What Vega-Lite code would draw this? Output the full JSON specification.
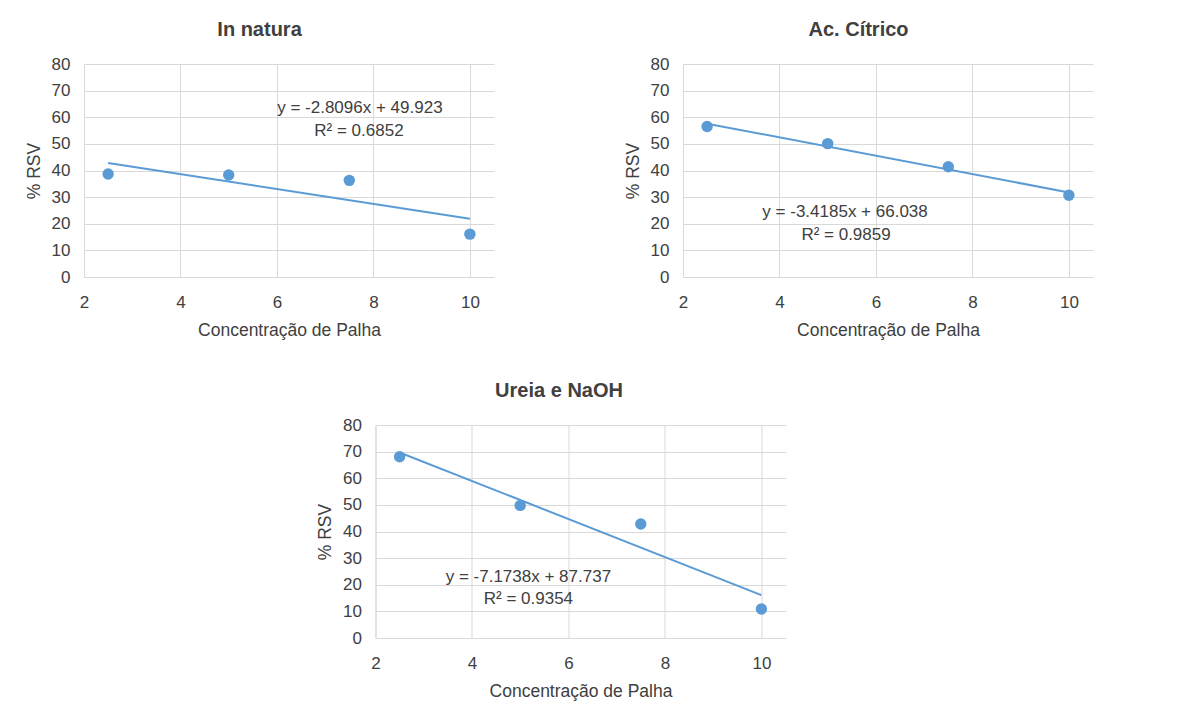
{
  "$schema": "https://vega.github.io/schema/vega-lite/v6.json",
  "background": "white",
  "padding": {"left": 25, "top": 20, "right": 10, "bottom": 5},
  "config": {
    "font": "Liberation Sans",
    "view": {"stroke": null},
    "axis": {
      "grid": true,
      "gridColor": "#D9D9D9",
      "domainColor": "#D9D9D9",
      "ticks": false,
      "labelColor": "#404040",
      "titleColor": "#404040",
      "labelFontSize": 17,
      "titleFontSize": 17.5,
      "titleFontWeight": "normal",
      "labelFont": "Liberation Sans",
      "titleFont": "Liberation Sans",
      "labelOverlap": false,
      "labelFlush": false
    },
    "axisY": {"labelPadding": 14, "titlePadding": 8, "labelFontSize": 17},
    "axisX": {"labelPadding": 17, "titlePadding": 11, "labelFontSize": 17},
    "title": {"fontSize": 20, "fontWeight": "bold", "color": "#404040", "anchor": "middle", "frame": "bounds", "offset": 15, "font": "Liberation Sans"}
  },
  "datasets": {
    "points": [
      {"panel": "In natura", "x": 2.5, "y": 38.7},
      {"panel": "In natura", "x": 5, "y": 38.3},
      {"panel": "In natura", "x": 7.5, "y": 36.3},
      {"panel": "In natura", "x": 10, "y": 16.1},
      {"panel": "Ac. Cítrico", "x": 2.5, "y": 56.5},
      {"panel": "Ac. Cítrico", "x": 5, "y": 50.1},
      {"panel": "Ac. Cítrico", "x": 7.5, "y": 41.4},
      {"panel": "Ac. Cítrico", "x": 10, "y": 30.7},
      {"panel": "Ureia e NaOH", "x": 2.5, "y": 68.1},
      {"panel": "Ureia e NaOH", "x": 5, "y": 49.8},
      {"panel": "Ureia e NaOH", "x": 7.5, "y": 42.8},
      {"panel": "Ureia e NaOH", "x": 10, "y": 10.9}
    ],
    "labels": [
      {"panel": "In natura", "eq": "y = -2.8096x + 49.923", "r2": "R² = 0.6852"},
      {"panel": "Ac. Cítrico", "eq": "y = -3.4185x + 66.038", "r2": "R² = 0.9859"},
      {"panel": "Ureia e NaOH", "eq": "y = -7.1738x + 87.737", "r2": "R² = 0.9354"}
    ]
  },
  "vconcat": [
    {
      "hconcat": [
        {
          "title": "In natura",
          "width": 410,
          "height": 213,
          "layer": [
            {
              "data": {"name": "points"},
              "transform": [{"filter": "datum.panel == 'In natura'"}],
              "mark": {"type": "circle", "size": 130, "color": "#5B9BD5", "opacity": 1},
              "encoding": {
                "x": {"field": "x", "type": "quantitative", "scale": {"domain": [2, 10.5], "nice": false}, "axis": {"values": [2, 4, 6, 8, 10], "title": "Concentração de Palha"}},
                "y": {"field": "y", "type": "quantitative", "scale": {"domain": [0, 80], "nice": false}, "axis": {"values": [0, 10, 20, 30, 40, 50, 60, 70, 80], "title": "% RSV"}}
              }
            },
            {
              "data": {"name": "points"},
              "transform": [{"filter": "datum.panel == 'In natura'"}, {"regression": "y", "on": "x", "extent": [2.5, 10]}],
              "mark": {"type": "line", "color": "#5B9BD5", "strokeWidth": 2},
              "encoding": {
                "x": {"field": "x", "type": "quantitative", "axis": {"values": [2, 4, 6, 8, 10], "title": "Concentração de Palha"}},
                "y": {"field": "y", "type": "quantitative", "axis": {"values": [0, 10, 20, 30, 40, 50, 60, 70, 80], "title": "% RSV"}}
              }
            },
            {
              "data": {"name": "labels"},
              "transform": [{"filter": "datum.panel == 'In natura'"}],
              "mark": {"type": "text", "fontSize": 17, "color": "#404040", "align": "center", "baseline": "middle"},
              "encoding": {
                "x": {"datum": 7.72, "type": "quantitative", "axis": {"values": [2, 4, 6, 8, 10], "title": "Concentração de Palha"}},
                "y": {"datum": 63.5, "type": "quantitative", "axis": {"values": [0, 10, 20, 30, 40, 50, 60, 70, 80], "title": "% RSV"}},
                "text": {"field": "eq"}
              }
            },
            {
              "data": {"name": "labels"},
              "transform": [{"filter": "datum.panel == 'In natura'"}],
              "mark": {"type": "text", "fontSize": 17, "color": "#404040", "align": "center", "baseline": "middle"},
              "encoding": {
                "x": {"datum": 7.7, "type": "quantitative", "axis": {"values": [2, 4, 6, 8, 10], "title": "Concentração de Palha"}},
                "y": {"datum": 54.8, "type": "quantitative", "axis": {"values": [0, 10, 20, 30, 40, 50, 60, 70, 80], "title": "% RSV"}},
                "text": {"field": "r2"}
              }
            }
          ]
        },
        {
          "title": "Ac. Cítrico",
          "width": 410,
          "height": 213,
          "layer": [
            {
              "data": {"name": "points"},
              "transform": [{"filter": "datum.panel == 'Ac. Cítrico'"}],
              "mark": {"type": "circle", "size": 130, "color": "#5B9BD5", "opacity": 1},
              "encoding": {
                "x": {"field": "x", "type": "quantitative", "scale": {"domain": [2, 10.5], "nice": false}, "axis": {"values": [2, 4, 6, 8, 10], "title": "Concentração de Palha"}},
                "y": {"field": "y", "type": "quantitative", "scale": {"domain": [0, 80], "nice": false}, "axis": {"values": [0, 10, 20, 30, 40, 50, 60, 70, 80], "title": "% RSV"}}
              }
            },
            {
              "data": {"name": "points"},
              "transform": [{"filter": "datum.panel == 'Ac. Cítrico'"}, {"regression": "y", "on": "x", "extent": [2.5, 10]}],
              "mark": {"type": "line", "color": "#5B9BD5", "strokeWidth": 2},
              "encoding": {
                "x": {"field": "x", "type": "quantitative", "axis": {"values": [2, 4, 6, 8, 10], "title": "Concentração de Palha"}},
                "y": {"field": "y", "type": "quantitative", "axis": {"values": [0, 10, 20, 30, 40, 50, 60, 70, 80], "title": "% RSV"}}
              }
            },
            {
              "data": {"name": "labels"},
              "transform": [{"filter": "datum.panel == 'Ac. Cítrico'"}],
              "mark": {"type": "text", "fontSize": 17, "color": "#404040", "align": "center", "baseline": "middle"},
              "encoding": {
                "x": {"datum": 5.36, "type": "quantitative", "axis": {"values": [2, 4, 6, 8, 10], "title": "Concentração de Palha"}},
                "y": {"datum": 24.4, "type": "quantitative", "axis": {"values": [0, 10, 20, 30, 40, 50, 60, 70, 80], "title": "% RSV"}},
                "text": {"field": "eq"}
              }
            },
            {
              "data": {"name": "labels"},
              "transform": [{"filter": "datum.panel == 'Ac. Cítrico'"}],
              "mark": {"type": "text", "fontSize": 17, "color": "#404040", "align": "center", "baseline": "middle"},
              "encoding": {
                "x": {"datum": 5.38, "type": "quantitative", "axis": {"values": [2, 4, 6, 8, 10], "title": "Concentração de Palha"}},
                "y": {"datum": 15.8, "type": "quantitative", "axis": {"values": [0, 10, 20, 30, 40, 50, 60, 70, 80], "title": "% RSV"}},
                "text": {"field": "r2"}
              }
            }
          ]
        }
      ],
      "spacing": 130
    },
    {
      "title": "Ureia e NaOH",
      "width": 410,
      "height": 213,
      "resolve": {"axis": {"y": "independent"}},
      "layer": [
        {
          "layer": [
            {
              "data": {"name": "points"},
              "transform": [{"filter": "datum.panel == 'Ureia e NaOH'"}],
              "mark": {"type": "circle", "size": 130, "color": "#5B9BD5", "opacity": 1},
              "encoding": {
                "x": {"field": "x", "type": "quantitative", "scale": {"domain": [2, 10.5], "nice": false}, "axis": {"values": [2, 4, 6, 8, 10], "title": "Concentração de Palha"}},
                "y": {"field": "y", "type": "quantitative", "scale": {"domain": [0, 80], "nice": false}, "axis": {"values": [0, 10, 20, 30, 40, 50, 60, 70, 80], "title": "% RSV", "orient": "left"}}
              }
            },
            {
              "data": {"name": "points"},
              "transform": [{"filter": "datum.panel == 'Ureia e NaOH'"}, {"regression": "y", "on": "x", "extent": [2.5, 10]}],
              "mark": {"type": "line", "color": "#5B9BD5", "strokeWidth": 2},
              "encoding": {
                "x": {"field": "x", "type": "quantitative", "axis": {"values": [2, 4, 6, 8, 10], "title": "Concentração de Palha"}},
                "y": {"field": "y", "type": "quantitative", "axis": {"values": [0, 10, 20, 30, 40, 50, 60, 70, 80], "title": "% RSV", "orient": "left"}}
              }
            }
          ]
        },
        {
          "layer": [
            {
              "data": {"name": "labels"},
              "transform": [{"filter": "datum.panel == 'Ureia e NaOH'"}],
              "mark": {"type": "text", "fontSize": 17, "color": "#404040", "align": "center", "baseline": "middle"},
              "encoding": {"x": {"datum": 5.17, "type": "quantitative", "axis": {"values": [2, 4, 6, 8, 10], "title": "Concentração de Palha"}}, "y": {"datum": 22.9, "type": "quantitative", "axis": {"orient": "right", "labels": false, "grid": false, "domain": false, "ticks": false, "title": null, "minExtent": 16, "maxExtent": 16}}, "text": {"field": "eq"}}
            },
            {
              "data": {"name": "labels"},
              "transform": [{"filter": "datum.panel == 'Ureia e NaOH'"}],
              "mark": {"type": "text", "fontSize": 17, "color": "#404040", "align": "center", "baseline": "middle"},
              "encoding": {"x": {"datum": 5.17, "type": "quantitative", "axis": {"values": [2, 4, 6, 8, 10], "title": "Concentração de Palha"}}, "y": {"datum": 14.6, "type": "quantitative", "axis": {"orient": "right", "labels": false, "grid": false, "domain": false, "ticks": false, "title": null, "minExtent": 16, "maxExtent": 16}}, "text": {"field": "r2"}}
            }
          ]
        }
      ]
    }
  ],
  "spacing": 42,
  "center": true
}
